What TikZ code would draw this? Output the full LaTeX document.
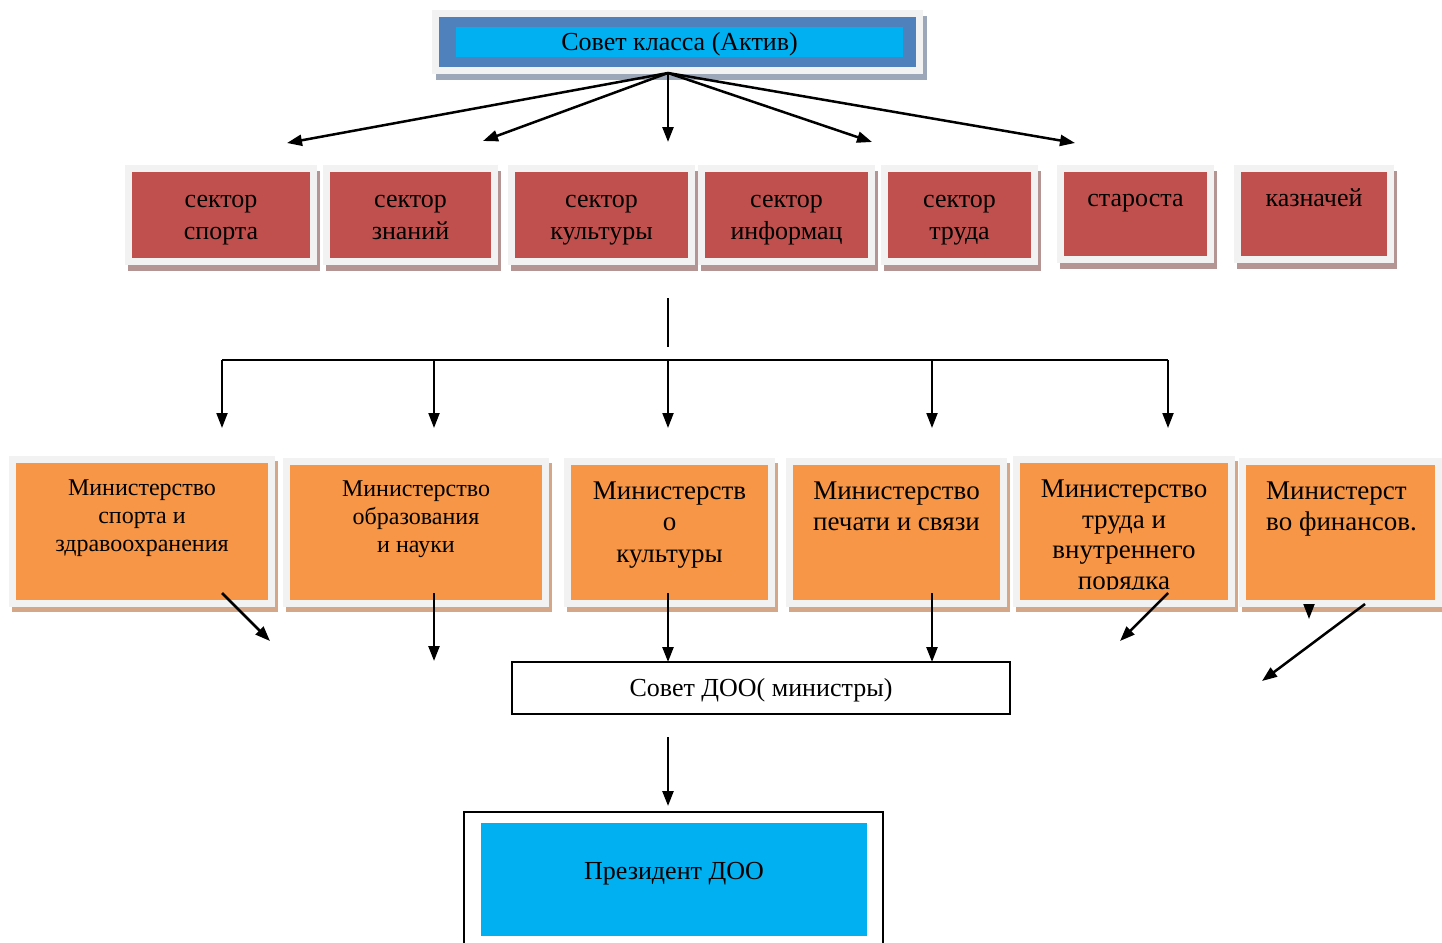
\documentclass[tikz,border=0pt]{standalone}
\usepackage{fontspec}
\setmainfont{Liberation Serif}
\usetikzlibrary{arrows.meta,positioning,shadows}

\definecolor{framegray}{HTML}{F2F2F2}
\definecolor{titleblue}{HTML}{4F81BD}
\definecolor{titlecyan}{HTML}{00B0F0}
\definecolor{titleshade}{HTML}{9CA8BA}
\definecolor{secred}{HTML}{C0504D}
\definecolor{secshade}{HTML}{B59494}
\definecolor{minorange}{HTML}{F79646}
\definecolor{minshade}{HTML}{D3A788}

\begin{document}
\begin{tikzpicture}[
    x=1pt, y=-1pt,
    >={Triangle[length=15pt,width=11pt]},
    font=\fontsize{26}{32}\selectfont,
    boxframe/.style={
		rectangle,
		draw=framegray,
		line width=7pt,
		inner sep=0pt,
		outer sep=0pt,
		align=center
	},
	ttlframe/.style={
		boxframe,
		fill=titleblue,
		general shadow={fill=titleshade, draw=titleshade, line width=7pt, shadow xshift=4pt, shadow yshift=-6pt}
	},
	ttl/.style={
		rectangle,
		fill=titlecyan,
		inner sep=0pt,
		outer sep=0pt
	},
	sector/.style={
		boxframe,
		fill=secred,
		minimum height=93pt,
		text height=52pt,
		text depth=4pt,
		general shadow={fill=secshade, draw=secshade, line width=7pt, shadow xshift=3pt, shadow yshift=-6pt}
	},
	ministry/.style={
		boxframe,
		fill=minorange,
		general shadow={fill=minshade, draw=minshade, line width=7pt, shadow xshift=3pt, shadow yshift=-5pt}
	},
	mintext/.style={
		align=center,
		inner sep=0pt,
		font=\fontsize{24}{28}\selectfont
	},
	mintextbig/.style={
		font=\fontsize{27}{31.5}\selectfont
	},
	plainbox/.style={
		rectangle,
		draw=black,
		line width=2pt,
		fill=white,
		inner sep=0pt,
		outer sep=0pt
	},
	arr/.style={
		->,
		line width=2.5pt
	}
  ]

\useasboundingbox (0,0) rectangle (1442,942);

% // Council of the class
\node [ttlframe, minimum width=484pt, minimum height=57pt] (ttlbox) at (677.5,42) {};
\node [ttl, minimum width=447pt, minimum height=30pt, text height=18pt, text depth=0pt] (ttl) at (679.5,42) {Совет класса (Актив)};

% // sectors
\node [sector, minimum width=185pt] (sport) at (221,215) {сектор\\спорта};
\node [sector, minimum width=168pt] (znan) at (410.5,215) {сектор\\знаний};
\node [sector, minimum width=180pt] (kult) at (601.5,215) {сектор\\культуры};
\node [sector, minimum width=170pt] (inf) at (786.5,215) {сектор\\информац};
\node [sector, minimum width=150pt] (trud) at (959.5,215) {сектор\\труда};
\node [sector, minimum width=150pt, minimum height=91pt] (star) at (1135.5,214) {староста\\\phantom{труда}};
\node [sector, minimum width=153pt, minimum height=91pt] (kazn) at (1314,214) {казначей\\\phantom{труда}};

% fan of arrows
\coordinate (fan) at (668,73);
\foreach \n/\x/\y in {1/287/143, 2/483/141, 3/668/142, 4/872/142, 5/1075/143}
  \coordinate (tip\n) at (\x,\y);
\foreach \n in {1,...,5}
  \draw [arr] (fan) -- (tip\n);

% // bus to the ministries
\coordinate (busin) at (668,298);
\coordinate (busout) at (668,347);
\draw [line width=1.2pt] (busin) -- (busout);
\foreach \n/\x in {1/222, 2/434, 3/668, 4/932, 5/1168} {
  \coordinate (bus\n) at (\x,360);
  \coordinate (drop\n) at (\x,428);
}
\draw [line width=2.5pt] (bus1) -- (bus5);
\foreach \n in {1,...,5}
  \draw [arr, line width=2pt] (bus\n) -- (drop\n);

% // ministries
\node [ministry, minimum width=259pt, minimum height=144pt] (min1) at (142,531.5) {};
\node [ministry, minimum width=259pt, minimum height=142pt] (min2) at (416,532.5) {};
\node [ministry, minimum width=204pt, minimum height=142pt] (min3) at (669.5,532.5) {};
\node [ministry, minimum width=214pt, minimum height=142pt] (min4) at (896.5,532.5) {};
\node [ministry, minimum width=215pt, minimum height=144pt] (min5) at (1124,531.5) {};
\node [ministry, minimum width=196pt, minimum height=142pt] (min6) at (1340.5,532.5) {};

\node [mintext, below=20pt of min1.north] (min1txt) {Министерство\\спорта и\\здравоохранения};
\node [mintext, below=19pt of min2.north] (min2txt) {Министерство\\образования\\и науки};
\node [mintext, mintextbig, below=20pt of min3.north] (min3txt) {Министерств\\о\\культуры};
\node [mintext, mintextbig, below=20pt of min4.north] (min4txt) {Министерство\\печати и связи};
\begin{scope}
  \clip ([yshift=14.5pt]min5.south west) rectangle (min5.north east);
  \node [mintext, font=\fontsize{27}{30.7}\selectfont, below=20pt of min5.north] (min5txt) {Министерство\\труда и\\внутреннего\\порядка};
\end{scope}
\node [mintext, mintextbig, align=left, below right=20pt and 23.5pt of min6.north west] (min6txt) {Министерст\\во финансов.};

% // council of DOO
\node [plainbox, minimum width=498pt, minimum height=52pt, text height=18pt, text depth=2pt] (sovet) at (761,688) {Совет ДОО( министры)};

% arrows below the ministries
\coordinate (a1) at (222,593);
\coordinate (e1) at (270,641);
\coordinate (a2) at (434,593);
\coordinate (e2) at (434,661);
\coordinate (a3) at (668,593);
\coordinate (a4) at (932,593);
\coordinate (a5) at (1168,593);
\coordinate (e5) at (1120,641);
\coordinate (h1) at (1309,604);
\coordinate (h2) at (1309,619);
\coordinate (a6) at (1365,604);
\coordinate (e6) at (1262,681);
\draw [arr] (a1) -- (e1);
\draw [arr] (a2) -- (e2);
\draw [arr] (a3) -- (a3 |- sovet.north);
\draw [arr] (a4) -- (a4 |- sovet.north);
\draw [arr] (a5) -- (e5);
\draw [arr, line width=2pt] (h1) -- (h2);
\draw [arr] (a6) -- (e6);

% // president
\node [plainbox, minimum width=419pt, minimum height=160pt] (presframe) at (673.5,892) {};
\node [ttl, minimum width=386pt, minimum height=113pt, text depth=17pt] (pres) at (674,879.5) {Президент ДОО};

\coordinate (sv) at (668,737);
\coordinate (pv) at (668,806);
\draw [arr] (sv) -- (pv);

\end{tikzpicture}
\end{document}
